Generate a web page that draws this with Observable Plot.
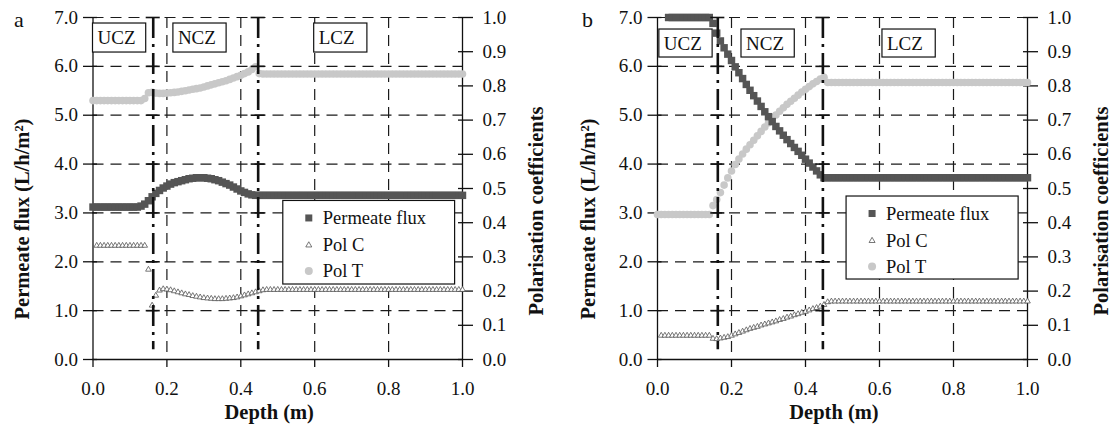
<!DOCTYPE html>
<html>
<head>
<meta charset="utf-8">
<script src="https://cdn.jsdelivr.net/npm/d3@7"></script>
<script src="https://cdn.jsdelivr.net/npm/@observablehq/plot@0.6"></script>
<style>
  html, body { margin: 0; padding: 0; background: #fff; }
  #wrap { display: flex; width: 1111px; height: 424px; overflow: hidden; }
  .serif-text { font-family: "Liberation Serif", "Times New Roman", serif; }
</style>
</head>
<body>
<div id="wrap"></div>
<script>
// Depth grid (m) shared by every series
const depth = [
  0.00,0.01,0.02,0.03,0.04,0.05,0.06,0.07,0.08,0.09,
  0.10,0.11,0.12,0.13,0.14,0.15,0.16,0.17,0.18,0.19,
  0.20,0.21,0.22,0.23,0.24,0.25,0.26,0.27,0.28,0.29,
  0.30,0.31,0.32,0.33,0.34,0.35,0.36,0.37,0.38,0.39,
  0.40,0.41,0.42,0.43,0.44,0.45,0.46,0.47,0.48,0.49,
  0.50,0.51,0.52,0.53,0.54,0.55,0.56,0.57,0.58,0.59,
  0.60,0.61,0.62,0.63,0.64,0.65,0.66,0.67,0.68,0.69,
  0.70,0.71,0.72,0.73,0.74,0.75,0.76,0.77,0.78,0.79,
  0.80,0.81,0.82,0.83,0.84,0.85,0.86,0.87,0.88,0.89,
  0.90,0.91,0.92,0.93,0.94,0.95,0.96,0.97,0.98,0.99,
  1.00
];

// Panel a — permeate flux (L/h/m²)
const fluxA = [
  3.12,3.12,3.12,3.12,3.12,3.12,3.12,3.12,3.12,3.12,
  3.12,3.12,3.12,3.14,3.18,3.25,3.33,3.40,3.46,3.51,
  3.55,3.59,3.62,3.64,3.66,3.68,3.70,3.71,3.72,3.72,
  3.72,3.71,3.70,3.68,3.66,3.63,3.60,3.57,3.53,3.49,
  3.45,3.42,3.39,3.37,3.36,3.36,3.36,3.36,3.36,3.36,
  3.36,3.36,3.36,3.36,3.36,3.36,3.36,3.36,3.36,3.36,
  3.36,3.36,3.36,3.36,3.36,3.36,3.36,3.36,3.36,3.36,
  3.36,3.36,3.36,3.36,3.36,3.36,3.36,3.36,3.36,3.36,
  3.36,3.36,3.36,3.36,3.36,3.36,3.36,3.36,3.36,3.36,
  3.36,3.36,3.36,3.36,3.36,3.36,3.36,3.36,3.36,3.36,
  3.36
];
// Panel a — concentration polarisation coefficient
const polCA = [
  null,0.333,0.333,0.333,0.333,0.333,0.333,0.333,0.333,0.333,
  0.333,0.333,0.333,0.333,0.333,0.263,0.158,0.187,0.202,0.206,
  0.205,0.203,0.200,0.197,0.194,0.191,0.189,0.186,0.184,0.182,
  0.180,0.179,0.178,0.177,0.177,0.177,0.178,0.179,0.180,0.182,
  0.185,0.188,0.191,0.194,0.197,0.200,0.203,0.204,0.204,0.204,
  0.204,0.204,0.204,0.204,0.204,0.204,0.204,0.204,0.204,0.204,
  0.204,0.204,0.204,0.204,0.204,0.204,0.204,0.204,0.204,0.204,
  0.204,0.204,0.204,0.204,0.204,0.204,0.204,0.204,0.204,0.204,
  0.204,0.204,0.204,0.204,0.204,0.204,0.204,0.204,0.204,0.204,
  0.204,0.204,0.204,0.204,0.204,0.204,0.204,0.204,0.204,0.204,
  0.204
];
// Panel a — temperature polarisation coefficient
const polTA = [
  0.757,0.757,0.757,0.757,0.757,0.757,0.757,0.757,0.757,0.757,
  0.757,0.757,0.757,0.757,0.763,0.780,0.781,0.779,0.778,0.778,
  0.779,0.780,0.781,0.782,0.784,0.786,0.788,0.790,0.792,0.794,
  0.797,0.800,0.803,0.806,0.809,0.812,0.815,0.819,0.823,0.827,
  0.831,0.836,0.841,0.848,0.856,0.836,0.835,0.835,0.835,0.835,
  0.835,0.835,0.835,0.835,0.835,0.835,0.835,0.835,0.835,0.835,
  0.835,0.835,0.835,0.835,0.835,0.835,0.835,0.835,0.835,0.835,
  0.835,0.835,0.835,0.835,0.835,0.835,0.835,0.835,0.835,0.835,
  0.835,0.835,0.835,0.835,0.835,0.835,0.835,0.835,0.835,0.835,
  0.835,0.835,0.835,0.835,0.835,0.835,0.835,0.835,0.835,0.835,
  0.835
];

// Panel b — permeate flux (L/h/m²)
const fluxB = [
  null,null,null,7.00,7.00,7.00,7.00,7.00,7.00,7.00,
  7.00,7.00,7.00,7.00,7.00,6.88,6.68,6.52,6.38,6.25,
  6.12,5.99,5.87,5.75,5.63,5.51,5.40,5.29,5.18,5.07,
  4.97,4.87,4.77,4.68,4.59,4.50,4.42,4.34,4.26,4.18,
  4.10,4.02,3.94,3.86,3.78,3.72,3.72,3.72,3.72,3.72,
  3.72,3.72,3.72,3.72,3.72,3.72,3.72,3.72,3.72,3.72,
  3.72,3.72,3.72,3.72,3.72,3.72,3.72,3.72,3.72,3.72,
  3.72,3.72,3.72,3.72,3.72,3.72,3.72,3.72,3.72,3.72,
  3.72,3.72,3.72,3.72,3.72,3.72,3.72,3.72,3.72,3.72,
  3.72,3.72,3.72,3.72,3.72,3.72,3.72,3.72,3.72,3.72,
  3.72
];
// Panel b — concentration polarisation coefficient
const polCB = [
  null,0.070,0.070,0.070,0.070,0.070,0.070,0.070,0.070,0.070,
  0.070,0.070,0.070,0.070,0.070,0.061,0.060,0.062,0.064,0.066,
  0.070,0.074,0.078,0.082,0.086,0.090,0.093,0.096,0.100,0.103,
  0.106,0.109,0.112,0.116,0.119,0.123,0.126,0.130,0.133,0.137,
  0.140,0.144,0.148,0.151,0.155,0.160,0.168,0.170,0.170,0.170,
  0.170,0.170,0.170,0.170,0.170,0.170,0.170,0.170,0.170,0.170,
  0.170,0.170,0.170,0.170,0.170,0.170,0.170,0.170,0.170,0.170,
  0.170,0.170,0.170,0.170,0.170,0.170,0.170,0.170,0.170,0.170,
  0.170,0.170,0.170,0.170,0.170,0.170,0.170,0.170,0.170,0.170,
  0.170,0.170,0.170,0.170,0.170,0.170,0.170,0.170,0.170,0.170,
  0.170
];
// Panel b — temperature polarisation coefficient
const polTB = [
  0.424,0.424,0.424,0.424,0.424,0.424,0.424,0.424,0.424,0.424,
  0.424,0.424,0.424,0.424,0.424,0.450,0.468,0.488,0.510,0.531,
  0.551,0.570,0.586,0.601,0.615,0.628,0.641,0.654,0.667,0.680,
  0.692,0.704,0.715,0.726,0.736,0.746,0.755,0.764,0.773,0.782,
  0.790,0.798,0.806,0.813,0.820,0.825,0.810,0.810,0.810,0.810,
  0.810,0.810,0.810,0.810,0.810,0.810,0.810,0.810,0.810,0.810,
  0.810,0.810,0.810,0.810,0.810,0.810,0.810,0.810,0.810,0.810,
  0.810,0.810,0.810,0.810,0.810,0.810,0.810,0.810,0.810,0.810,
  0.810,0.810,0.810,0.810,0.810,0.810,0.810,0.810,0.810,0.810,
  0.810,0.810,0.810,0.810,0.810,0.810,0.810,0.810,0.810,0.810,
  0.810
];

// Zone boundaries (m) and zone names
const zoneBounds = [0.163, 0.447];
const zoneNames = ["UCZ", "NCZ", "LCZ"];

// Series names and axis ticks
const seriesNames = ["Permeate flux", "Pol C", "Pol T"];
const fluxTicks = [0, 1, 2, 3, 4, 5, 6, 7];
const polTicks = [0.0, 0.1, 0.2, 0.3, 0.4, 0.5, 0.6, 0.7, 0.8, 0.9, 1.0];
const depthTicks = [0.0, 0.2, 0.4, 0.6, 0.8, 1.0];

const FONT = '"Liberation Serif", "Times New Roman", serif';
const FLUX_MAX = 7, POL_MAX = 1;
const polToFlux = p => p * FLUX_MAX / POL_MAX;   // right axis shares the left scale
const INK = "#111";
const FLUX_COLOR = "#555";
const POLT_COLOR = "#c8c8c8";

function panel(cfg) {
  const rows = depth.map((d, i) => ({depth: d, flux: cfg.flux[i], polC: cfg.polC[i], polT: cfg.polT[i]}));
  const fluxPts = rows.filter(r => r.flux != null);
  const polCPts = rows.filter(r => r.polC != null);
  const polTPts = rows.filter(r => r.polT != null);

  const boxes = zoneNames.map((name, i) => ({
    name, x1: cfg.boxes.left[i], x2: cfg.boxes.left[i] + cfg.boxes.width,
    y1: cfg.boxes.bottom, y2: cfg.boxes.top
  }));
  const crosses = zoneBounds.flatMap(b => fluxTicks.filter(t => t > 0).map(t => ({b, t})));
  const dash = {stroke: "#1a1a1a", strokeOpacity: 1, strokeWidth: 1.2, strokeDasharray: "11,7"};

  const svg = Plot.plot({
    width: cfg.width, height: 424,
    marginLeft: cfg.marginLeft, marginRight: cfg.marginRight, marginTop: 17, marginBottom: 65,
    x: {domain: [0, 1]},
    y: {domain: [0, FLUX_MAX]},
    style: {fontFamily: FONT, fontSize: "19px", color: INK, background: "white", overflow: "visible"},
    marks: [
      // dashed grid
      Plot.gridY(fluxTicks.filter(t => t > 0), dash),
      Plot.gridX(depthTicks.filter(t => t > 0 && t < 1), dash),
      // frame lines: left, right and bottom are solid
      Plot.ruleX([0, 1], {stroke: INK, strokeWidth: 1.3}),
      Plot.ruleY([0], {stroke: INK, strokeWidth: 1.3}),
      // left axis (flux)
      Plot.axisY(fluxTicks, {anchor: "left", tickSize: 14, dx: 4.5, fill: "none", stroke: INK, strokeWidth: 1.3}),
      Plot.axisY(fluxTicks, {anchor: "left", tickSize: 0, tickPadding: 15, fontSize: 19,
        tickFormat: d => d.toFixed(1), label: null}),
      // right axis (polarisation coefficients)
      Plot.axisY(polTicks.map(polToFlux), {anchor: "right", tickSize: 15, dx: -5, fill: "none", stroke: INK, strokeWidth: 1.3}),
      Plot.axisY(polTicks.map(polToFlux), {anchor: "right", tickSize: 0, tickPadding: 20, fontSize: 19,
        tickFormat: d => (d * POL_MAX / FLUX_MAX).toFixed(1), label: null}),
      // bottom axis (depth)
      Plot.axisX(depthTicks, {anchor: "bottom", tickSize: 8, fill: "none", stroke: INK, strokeWidth: 1.3}),
      Plot.axisX(depthTicks, {anchor: "bottom", tickSize: 0, tickPadding: 22, fontSize: 19,
        tickFormat: d => d.toFixed(1), label: null}),
      // series
      Plot.dot(polCPts, {x: "depth", y: d => polToFlux(d.polC), symbol: "triangle", r: 2.1,
        stroke: FLUX_COLOR, strokeWidth: 0.8, fill: "white"}),
      Plot.dot(polTPts, {x: "depth", y: d => polToFlux(d.polT), r: 3.8, fill: POLT_COLOR, stroke: "none"}),
      Plot.dot(fluxPts, {x: "depth", y: "flux", symbol: "square", r: 4.2, fill: FLUX_COLOR, stroke: "none"}),
      // zone boundaries (dash-dot) with their cross ticks
      Plot.ruleX(zoneBounds, {y1: FLUX_MAX, y2: 0.2, stroke: INK, strokeWidth: 2.6, strokeDasharray: "21,6,3,6"}),
      Plot.ruleY(crosses, {y: "t", x1: d => d.b - 0.019, x2: d => d.b + 0.019, stroke: INK, strokeWidth: 1.6}),
      // zone labels
      Plot.rect(boxes, {x1: "x1", x2: "x2", y1: "y1", y2: "y2", fill: "white", stroke: INK, strokeWidth: 1.2}),
      Plot.text(boxes, {x: "x1", y: d => (d.y1 + d.y2) / 2, text: "name", textAnchor: "start", dx: 4.5,
        fontSize: 19, fill: INK})
    ]
  });

  const s = d3.select(svg);
  const xs = svg.scale("x"), ys = svg.scale("y");

  // legend
  const L = cfg.legend;
  const lx0 = xs.apply(L.x1), lx1 = xs.apply(L.x2), ly0 = ys.apply(L.top), ly1 = ys.apply(L.bottom);
  const g = s.append("g").attr("class", "serif-text").attr("fill", INK).attr("text-anchor", "start");
  g.append("rect").attr("x", lx0).attr("y", ly0).attr("width", lx1 - lx0).attr("height", ly1 - ly0)
    .attr("fill", "white").attr("stroke", INK).attr("stroke-width", 1.2);
  const rowY = [17.5, 44.5, 70.5];
  seriesNames.forEach((name, i) => {
    const cy = ly0 + rowY[i], mx = lx0 + 26;
    if (i === 0) g.append("rect").attr("x", mx - 3.5).attr("y", cy - 3.5).attr("width", 7).attr("height", 7).attr("fill", FLUX_COLOR);
    if (i === 1) g.append("path").attr("d", `M${mx},${cy - 3.2}L${mx + 3},${cy + 2}L${mx - 3},${cy + 2}Z`)
      .attr("fill", "white").attr("stroke", FLUX_COLOR).attr("stroke-width", 0.8);
    if (i === 2) g.append("circle").attr("cx", mx).attr("cy", cy).attr("r", 4).attr("fill", POLT_COLOR);
    g.append("text").attr("class", "serif-text").attr("x", lx0 + 40).attr("y", cy)
      .attr("dominant-baseline", "central").attr("text-anchor", "start")
      .style("font-family", FONT).style("font-size", "18.5px").text(name);
  });

  // axis titles and panel letter
  const t = s.append("g").attr("class", "serif-text").attr("fill", INK);
  t.append("text").attr("x", cfg.letterX).attr("y", 27).attr("text-anchor", "start")
    .style("font-family", FONT).style("font-size", "22px").text(cfg.letter);
  const title = sel => sel.attr("text-anchor", "middle").style("font-family", FONT)
    .style("font-weight", "bold").style("font-size", "20.5px");
  t.append("text").attr("transform", `translate(${cfg.leftTitleX},219) rotate(-90)`)
    .attr("dominant-baseline", "central").call(title).text("Permeate flux (L/h/m²)");
  t.append("text").attr("transform", `translate(${cfg.rightTitleX},211) rotate(-90)`)
    .attr("dominant-baseline", "central").call(title).text("Polarisation coefficients");
  t.append("text").attr("x", (xs.range[0] + xs.range[1]) / 2 - 8).attr("y", 419)
    .call(title).text("Depth (m)");

  return svg;
}

const wrap = document.getElementById("wrap");
wrap.append(panel({
  flux: fluxA, polC: polCA, polT: polTA,
  width: 555, marginLeft: 92.5, marginRight: 93,
  boxes: {left: [0.0, 0.2176, 0.5986], width: 0.144, top: 6.877, bottom: 6.283},
  legend: {x1: 0.515, x2: 0.980, top: 3.245, bottom: 1.535},
  letter: "a", letterX: 14, leftTitleX: 21.5, rightTitleX: 536
}));
wrap.append(panel({
  flux: fluxB, polC: polCB, polT: polTB,
  width: 556, marginLeft: 102, marginRight: 84,
  boxes: {left: [0.005, 0.227, 0.608], width: 0.144, top: 6.754, bottom: 6.181},
  legend: {x1: 0.511, x2: 0.976, top: 3.336, bottom: 1.637},
  letter: "b", letterX: 27, leftTitleX: 33, rightTitleX: 546
}));
</script>
</body>
</html>
